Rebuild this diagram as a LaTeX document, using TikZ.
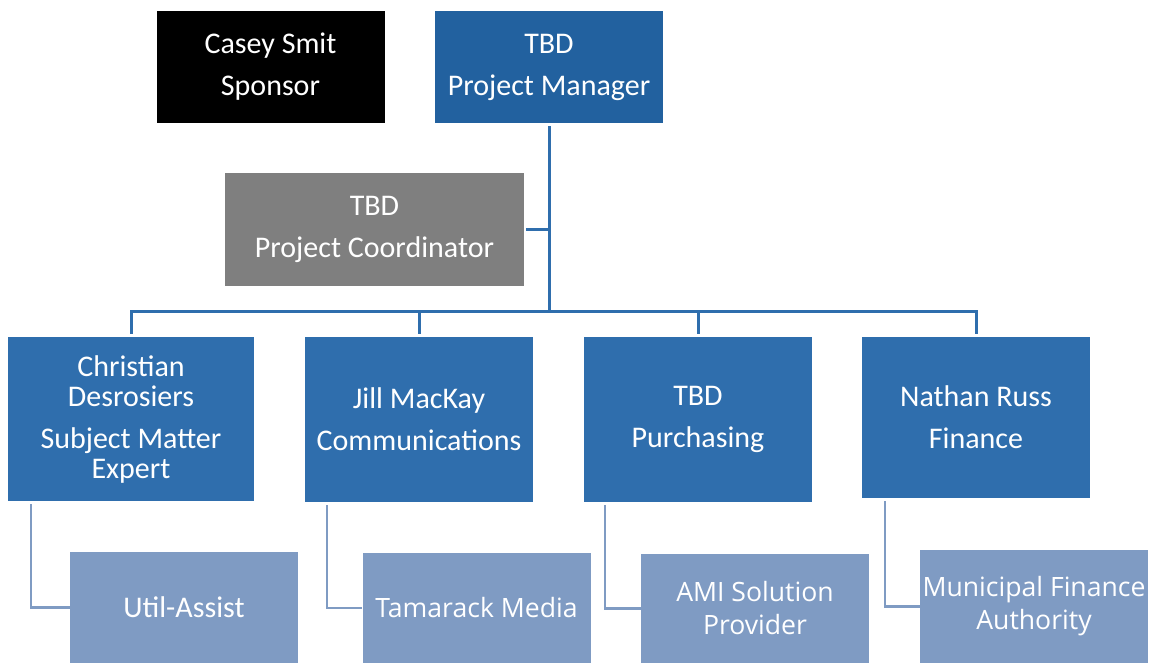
\documentclass[tikz,border=0pt]{standalone}
\usepackage{fontspec}
\setmainfont{Carlito}
\newfontfamily\vendorfont{Open Sans}

\definecolor{mgrblue}{HTML}{22619F}
\definecolor{leadblue}{HTML}{2F6EAD}
\definecolor{vendorblue}{HTML}{7F9BC3}
\definecolor{coordgray}{HTML}{7F7F7F}

\begin{document}
\begin{tikzpicture}[x=1pt,y=-1pt,
    box node/.style={rectangle,inner sep=0pt,align=center,text=white,font=\fontsize{30}{30}\selectfont,minimum width=228pt,minimum height=112pt},
    lead node/.style={box node,fill=leadblue,minimum height=165pt},
    vendor node/.style={box node,fill=vendorblue,minimum height=110pt},
    vendor text/.style={font=\vendorfont\fontsize{26.6}{33}\selectfont},
    main line/.style={draw=leadblue,line width=3pt},
    vendor line/.style={draw=vendorblue,line width=2.5pt}]
    \useasboundingbox (0,0) rectangle (1151,663);

    % top row
    \node[box node,fill=black] (sponsor) at (270.5,67) {Casey Smit\\[12pt]Sponsor};
    \node[box node,fill=mgrblue] (pm) at (549,67) {TBD\\[12pt]Project Manager};
    \node[box node,fill=coordgray,minimum width=299pt,minimum height=113pt] (coord) at (374.5,229.5) {TBD\\[12pt]Project Coordinator};

    % team leads
    \node[lead node,minimum width=246pt,minimum height=164pt] (sme) at (131,419) {Christian\\Desrosiers\\[12pt]Subject Matter\\Expert};
    \node[lead node] (comm) at (419,419.5) {Jill MacKay\\[12pt]Communications};
    \node[lead node] (purch) at (698,419.5) {TBD\\[12pt]Purchasing};
    \node[lead node,minimum height=161pt] (fin) at (976,417.5) {Nathan Russ\\[12pt]Finance};

    % outside parties
    \node[vendor node,minimum height=111pt] (util) at (184,607.5) {Util-Assist};
    \node[vendor node,vendor text] (tam) at (476.5,608) {Tamarack Media};
    \node[vendor node,vendor text,minimum height=109pt] (ami) at (755,608.5) {AMI Solution\\Provider};
    \node[vendor node,vendor text,minimum height=113pt] (mfa) at (1034,606.5) {Municipal Finance\\Authority};

    % reporting lines
    \coordinate (bus) at (549,311);
    \draw[main line,shorten <=3pt] (pm.south) -- (bus);
    \draw[main line,shorten <=2pt] (coord.east) -- (coord.east -| bus);
    \foreach \lead in {sme,comm,purch,fin}
        \draw[main line,shorten >=3pt] (bus) -| (\lead.north);

    \draw[vendor line] ([xshift=23pt,yshift=-3pt]sme.south west) |- (util.west);
    \draw[vendor line] ([xshift=22pt,yshift=-3pt]comm.south west) |- (tam.west);
    \draw[vendor line] ([xshift=21pt,yshift=-3pt]purch.south west) |- (ami.west);
    \draw[vendor line] ([xshift=23pt,yshift=-3pt]fin.south west) |- (mfa.west);
\end{tikzpicture}
\end{document}
